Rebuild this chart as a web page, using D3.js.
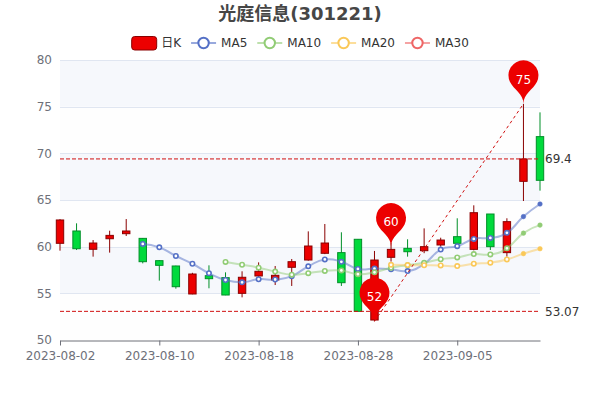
<!DOCTYPE html>
<html><head><meta charset="utf-8">
<script src="https://cdn.jsdelivr.net/npm/d3@7/dist/d3.min.js"></script>
<style>
html,body{margin:0;padding:0;background:#fff;}
svg{display:block;font-family:"DejaVu Sans","Noto Sans CJK SC",sans-serif;}
</style>
</head><body>
<svg id="chart" width="600" height="400"></svg>
<script>
// ---------- data ----------
const titleText = "光庭信息(301221)";
const dates = ["2023-08-02","2023-08-03","2023-08-04","2023-08-07","2023-08-08","2023-08-09","2023-08-10","2023-08-11","2023-08-14","2023-08-15",
  "2023-08-16","2023-08-17","2023-08-18","2023-08-21","2023-08-22","2023-08-23","2023-08-24","2023-08-25","2023-08-28","2023-08-29",
  "2023-08-30","2023-08-31","2023-09-01","2023-09-04","2023-09-05","2023-09-06","2023-09-07","2023-09-08","2023-09-11","2023-09-12"];
const opens  = [60.36,61.68,59.72,60.85,61.39,60.89,58.50,57.93,54.93,56.89,56.68,55.00,56.86,56.43,57.79,58.57,59.29,59.36,60.79,52.14,58.86,59.82,59.57,60.18,61.07,59.71,63.50,59.36,67.00,71.79];
const closes = [62.86,59.78,60.39,61.21,61.68,58.39,58.00,55.71,57.07,56.57,54.82,56.72,57.36,56.93,58.39,60.07,60.39,56.14,53.07,58.57,59.71,59.46,60.00,60.71,60.36,63.64,60.00,62.68,69.40,67.11];
const lows   = [59.57,59.64,58.93,59.36,61.14,58.21,56.36,55.50,54.90,55.54,54.80,54.57,56.70,55.89,55.79,58.50,59.20,55.79,53.07,52.00,58.40,58.93,59.30,60.00,60.20,59.60,59.64,58.93,64.89,66.00];
const highs  = [62.95,62.50,60.71,61.71,62.96,60.93,58.55,57.96,57.20,58.00,57.25,57.36,58.32,57.93,58.68,61.64,62.43,61.54,60.80,59.54,60.45,60.79,61.96,60.96,63.04,64.43,63.50,63.04,75.30,74.39];
const ma5  = [null,null,null,null,null,60.29,59.93,59.00,58.17,57.15,56.43,56.18,56.51,56.48,56.84,57.89,58.63,58.38,57.61,57.65,57.58,57.39,58.16,59.69,60.05,60.83,60.94,61.48,63.22,64.57];
const ma10 = [null,null,null,null,null,null,null,null,null,null,58.36,58.06,57.75,57.33,57.00,57.16,57.40,57.45,57.05,57.25,57.74,58.01,58.27,58.65,58.85,59.21,59.17,59.82,61.45,62.31];
const ma20 = [null,null,null,null,null,null,null,null,null,null,null,null,null,null,null,null,null,null,null,null,58.05,58.03,58.01,57.99,57.92,58.18,58.28,58.63,59.25,59.78];
const ma30 = dates.map(() => null);
const yTicks = [50,55,60,65,70,75,80];
const xTickDates = ["2023-08-02","2023-08-10","2023-08-18","2023-08-28","2023-09-05"];
const legendNames = ["日K","MA5","MA10","MA20","MA30"];
const maColors = ["#5470c6","#91cc75","#fac858","#ee6666"];
const customPoint = {date:"2023-08-30", value:60};

// ---------- setup ----------
const L = 60, R = 540, T = 60, B = 340;
const FONT = '"DejaVu Sans","Noto Sans CJK SC",sans-serif';
const svg = d3.select("#chart");
const x = d3.scalePoint().domain(dates).range([L, R]).padding(0);
const y = d3.scaleLinear().domain([50, 80]).range([B, T]);
const upFill = "#ec0000", upBorder = "#8A0000", downFill = "#00da3c", downBorder = "#008F28";
const axisColor = "#6E7079";

// title
svg.append("text").attr("x", 300).attr("y", 20).attr("text-anchor", "middle")
  .attr("font-size", 18).attr("font-weight", "bold").attr("fill", "#464646").text(titleText);

// split areas
const bandColors = ["#fefefe", "#f6f8fc"];
for (let i = 0; i < yTicks.length - 1; i++) {
  svg.append("rect").attr("x", L).attr("width", R - L)
    .attr("y", y(yTicks[i + 1])).attr("height", y(yTicks[i]) - y(yTicks[i + 1]))
    .attr("fill", bandColors[i % 2]);
}
// grid lines
svg.append("g").selectAll("line").data(yTicks.slice(1)).join("line")
  .attr("x1", L).attr("x2", R).attr("y1", d => Math.round(y(d)) + 0.5).attr("y2", d => Math.round(y(d)) + 0.5)
  .attr("stroke", "#E0E6F1").attr("stroke-width", 1);

// y axis
const yAxis = svg.append("g").attr("transform", `translate(${L},0)`)
  .call(d3.axisLeft(y).tickValues(yTicks).tickSize(0).tickPadding(8));
yAxis.attr("font-family", FONT).attr("font-size", 12);
yAxis.select(".domain").remove();
yAxis.selectAll("text").attr("fill", axisColor);

// x axis
const xAxis = svg.append("g").attr("transform", `translate(0,${B + 0.5})`)
  .call(d3.axisBottom(x).tickValues(xTickDates).tickSize(5).tickSizeOuter(0).tickPadding(6));
xAxis.attr("font-family", FONT).attr("font-size", 12);
xAxis.select(".domain").attr("stroke", axisColor);
xAxis.selectAll(".tick line").attr("stroke", axisColor);
xAxis.selectAll("text").attr("fill", axisColor);

// candles
const bw = 7.4;
const candles = svg.append("g").selectAll("g").data(dates).join("g");
candles.append("line")
  .attr("x1", (d) => x(d)).attr("x2", (d) => x(d))
  .attr("y1", (d, i) => y(highs[i])).attr("y2", (d, i) => y(lows[i]))
  .attr("stroke", (d, i) => closes[i] >= opens[i] ? upBorder : downBorder).attr("stroke-width", 1);
candles.append("rect")
  .attr("x", d => x(d) - bw / 2).attr("width", bw)
  .attr("y", (d, i) => y(Math.max(opens[i], closes[i])))
  .attr("height", (d, i) => Math.max(1, Math.abs(y(opens[i]) - y(closes[i]))))
  .attr("fill", (d, i) => closes[i] >= opens[i] ? upFill : downFill)
  .attr("stroke", (d, i) => closes[i] >= opens[i] ? upBorder : downBorder).attr("stroke-width", 1);

// MA lines
const maSeries = [ma5, ma10, ma20, ma30];
const line = d3.line().defined(d => d.v != null).x(d => x(d.d)).y(d => y(d.v)).curve(d3.curveCardinal.tension(-0.5));
const filledFrom = 28;
maSeries.forEach((arr, k) => {
  const pts = dates.map((d, i) => ({d, v: arr[i], i}));
  svg.append("path").datum(pts).attr("d", line).attr("fill", "none")
    .attr("stroke", maColors[k]).attr("stroke-width", 2).attr("stroke-opacity", 0.5);
  svg.append("g").selectAll("circle").data(pts.filter(p => p.v != null)).join("circle")
    .attr("cx", p => x(p.d)).attr("cy", p => y(p.v))
    .attr("r", p => p.i >= filledFrom ? 2.3 : 2.2)
    .attr("fill", p => p.i >= filledFrom ? maColors[k] : "#fff")
    .attr("stroke", maColors[k]).attr("stroke-width", p => p.i >= filledFrom ? 0.5 : 1.6);
});

// mark lines
const markColor = "#d01010";
const maxClose = d3.max(closes), minClose = d3.min(closes);
[maxClose, minClose].forEach(v => {
  svg.append("line").attr("x1", L).attr("x2", R).attr("y1", y(v)).attr("y2", y(v))
    .attr("stroke", markColor).attr("stroke-width", 1).attr("stroke-dasharray", "4,2");
  svg.append("text").attr("x", R + 5).attr("y", y(v)).attr("dy", "0.35em")
    .attr("font-size", 12).attr("fill", "#333").text(String(v));
});
const iMax = d3.maxIndex(highs), iMin = d3.minIndex(lows);
svg.append("line")
  .attr("x1", x(dates[iMin])).attr("y1", y(lows[iMin]))
  .attr("x2", x(dates[iMax])).attr("y2", y(highs[iMax]))
  .attr("stroke", markColor).attr("stroke-width", 1).attr("stroke-dasharray", "3,3");

// mark points (pins)
function pinPath(px, py, size) {
  const w = size / 5 * 3, h = Math.max(w, size), r = w / 2;
  const dy = r * r / (h - r), cy = py - h + r + dy;
  const angle = Math.asin(dy / r), dx = Math.cos(angle) * r;
  const tanX = Math.sin(angle), tanY = Math.cos(angle);
  const cpLen = r * 0.6, cpLen2 = r * 0.7;
  const p = d3.path();
  p.moveTo(px - dx, cy + dy);
  p.arc(px, cy, r, Math.PI - angle, Math.PI * 2 + angle);
  p.bezierCurveTo(px + dx - tanX * cpLen, cy + dy + tanY * cpLen, px, py - cpLen2, px, py);
  p.bezierCurveTo(px, py - cpLen2, px - dx + tanX * cpLen, cy + dy + tanY * cpLen, px - dx, cy + dy);
  p.closePath();
  return p.toString();
}
const pins = [
  {d: dates[iMax], v: highs[iMax]},
  {d: dates[iMin], v: lows[iMin]},
  {d: customPoint.date, v: customPoint.value}
];
const pinG = svg.append("g").selectAll("g").data(pins).join("g");
pinG.append("path").attr("d", p => pinPath(x(p.d), y(p.v), 50)).attr("fill", upFill);
pinG.append("text").attr("x", p => x(p.d)).attr("y", p => y(p.v) - 24.5).attr("dy", "0.35em")
  .attr("text-anchor", "middle").attr("font-size", 12).attr("fill", "#fff")
  .text(p => d3.format(".0f")(p.v));

// legend
const legend = svg.append("g");
let cursor = 0;
const items = legendNames.map((name, k) => {
  const g = legend.append("g");
  if (k === 0) {
    g.append("rect").attr("x", 0.5).attr("y", -6.5).attr("width", 25).attr("height", 13.5).attr("rx", 3)
      .attr("fill", upFill).attr("stroke", upBorder).attr("stroke-width", 1);
  } else {
    g.append("line").attr("x1", 0).attr("x2", 25).attr("y1", 0).attr("y2", 0)
      .attr("stroke", maColors[k - 1]).attr("stroke-width", 2).attr("stroke-opacity", 0.6);
    g.append("circle").attr("cx", 12.5).attr("cy", 0).attr("r", 5.2).attr("fill", "#fff")
      .attr("stroke", maColors[k - 1]).attr("stroke-width", 2);
  }
  const t = g.append("text").attr("x", 30).attr("y", 0).attr("dy", "0.35em")
    .attr("font-size", 12).attr("fill", "#333").text(name);
  const w = 30 + t.node().getComputedTextLength();
  const pos = cursor;
  cursor += w + 10;
  return {g, pos};
});
const totalW = cursor - 10;
const startX = 300 - totalW / 2;
items.forEach(it => it.g.attr("transform", `translate(${startX + it.pos},43)`));
</script>
</body></html>
